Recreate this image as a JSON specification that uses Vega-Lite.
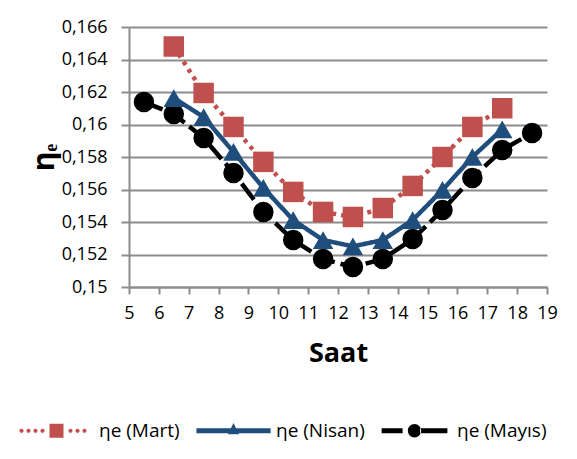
{
  "$schema": "https://vega.github.io/schema/vega-lite/v6.json",
  "width": 418,
  "height": 260,
  "autosize": {"type": "none"},
  "padding": {"left": 129, "top": 27, "right": 30, "bottom": 172},
  "background": "white",
  "config": {
    "font": "Open Sans",
    "view": {"stroke": null},
    "axis": {"labelColor": "#000000", "titleColor": "#000000", "labelFontSize": 18, "domainColor": "#8c8c8c", "domainWidth": 2, "tickColor": "#8c8c8c", "tickWidth": 2, "gridColor": "#8c8c8c", "gridWidth": 2}
  },
  "data": {
    "values": [
      {"saat": 5.5, "eta": 0.16138, "seri": "ηe (Mayıs)"},
      {"saat": 6.5, "eta": 0.16065, "seri": "ηe (Mayıs)"},
      {"saat": 7.5, "eta": 0.15917, "seri": "ηe (Mayıs)"},
      {"saat": 8.5, "eta": 0.15702, "seri": "ηe (Mayıs)"},
      {"saat": 9.5, "eta": 0.15462, "seri": "ηe (Mayıs)"},
      {"saat": 10.5, "eta": 0.15289, "seri": "ηe (Mayıs)"},
      {"saat": 11.5, "eta": 0.15172, "seri": "ηe (Mayıs)"},
      {"saat": 12.5, "eta": 0.15123, "seri": "ηe (Mayıs)"},
      {"saat": 13.5, "eta": 0.15172, "seri": "ηe (Mayıs)"},
      {"saat": 14.5, "eta": 0.15295, "seri": "ηe (Mayıs)"},
      {"saat": 15.5, "eta": 0.15474, "seri": "ηe (Mayıs)"},
      {"saat": 16.5, "eta": 0.15671, "seri": "ηe (Mayıs)"},
      {"saat": 17.5, "eta": 0.15843, "seri": "ηe (Mayıs)"},
      {"saat": 18.5, "eta": 0.15948, "seri": "ηe (Mayıs)"},
      {"saat": 6.5, "eta": 0.16163, "seri": "ηe (Nisan)"},
      {"saat": 7.5, "eta": 0.16046, "seri": "ηe (Nisan)"},
      {"saat": 8.5, "eta": 0.15831, "seri": "ηe (Nisan)"},
      {"saat": 9.5, "eta": 0.1561, "seri": "ηe (Nisan)"},
      {"saat": 10.5, "eta": 0.15412, "seri": "ηe (Nisan)"},
      {"saat": 11.5, "eta": 0.15289, "seri": "ηe (Nisan)"},
      {"saat": 12.5, "eta": 0.1525, "seri": "ηe (Nisan)"},
      {"saat": 13.5, "eta": 0.15289, "seri": "ηe (Nisan)"},
      {"saat": 14.5, "eta": 0.15412, "seri": "ηe (Nisan)"},
      {"saat": 15.5, "eta": 0.15597, "seri": "ηe (Nisan)"},
      {"saat": 16.5, "eta": 0.158, "seri": "ηe (Nisan)"},
      {"saat": 17.5, "eta": 0.1597, "seri": "ηe (Nisan)"},
      {"saat": 6.5, "eta": 0.1648, "seri": "ηe (Mart)"},
      {"saat": 7.5, "eta": 0.16194, "seri": "ηe (Mart)"},
      {"saat": 8.5, "eta": 0.15985, "seri": "ηe (Mart)"},
      {"saat": 9.5, "eta": 0.1577, "seri": "ηe (Mart)"},
      {"saat": 10.5, "eta": 0.15585, "seri": "ηe (Mart)"},
      {"saat": 11.5, "eta": 0.15462, "seri": "ηe (Mart)"},
      {"saat": 12.5, "eta": 0.15431, "seri": "ηe (Mart)"},
      {"saat": 13.5, "eta": 0.15486, "seri": "ηe (Mart)"},
      {"saat": 14.5, "eta": 0.15622, "seri": "ηe (Mart)"},
      {"saat": 15.5, "eta": 0.158, "seri": "ηe (Mart)"},
      {"saat": 16.5, "eta": 0.15985, "seri": "ηe (Mart)"},
      {"saat": 17.5, "eta": 0.161, "seri": "ηe (Mart)"}
    ]
  },
  "encoding": {
    "x": {
      "field": "saat", "type": "quantitative",
      "scale": {"domain": [5, 19], "nice": false, "zero": false},
      "axis": {"values": [5,6,7,8,9,10,11,12,13,14,15,16,17,18,19], "grid": false, "tickSize": 7, "labelPadding": 10, "title": "Saat", "titleFontSize": 27, "titleFontWeight": "bold", "titlePadding": 18, "labelFlush": false}
    },
    "y": {
      "field": "eta", "type": "quantitative",
      "scale": {"domain": [0.15, 0.166], "nice": false, "zero": false},
      "axis": {"values": [0.15,0.152,0.154,0.156,0.158,0.16,0.162,0.164,0.166], "labelExpr": "replace(format(datum.value, '.3~f'), '.', ',')", "tickSize": 8, "labelPadding": 14, "title": "ηₑ", "titleFontSize": 30, "titleFontWeight": "bold", "titlePadding": 2, "labelFlush": false}
    },
    "color": {
      "field": "seri", "type": "nominal",
      "scale": {"domain": ["ηe (Mart)", "ηe (Nisan)", "ηe (Mayıs)"], "range": ["#c0504d", "#1f4e7d", "#000000"]},
      "legend": {
        "title": null, "orient": "none", "direction": "horizontal",
        "legendX": -82, "legendY": 394,
        "labelFontSize": 19, "labelColor": "#000000", "labelOffset": 33, "columnPadding": 16,
        "symbolSize": 196, "symbolStrokeWidth": 0, "padding": 0,
        "encode": {
          "symbols": {
            "update": {
              "shape": {"signal": "datum.value == 'ηe (Mart)' ? 'M-5.3,0a0.3,0.3 0 1,0 0.6,0a0.3,0.3 0 1,0 -0.6,0M-4.3,0a0.3,0.3 0 1,0 0.6,0a0.3,0.3 0 1,0 -0.6,0M-3.3,0a0.3,0.3 0 1,0 0.6,0a0.3,0.3 0 1,0 -0.6,0M-2.3,0a0.3,0.3 0 1,0 0.6,0a0.3,0.3 0 1,0 -0.6,0M1.7,0a0.3,0.3 0 1,0 0.6,0a0.3,0.3 0 1,0 -0.6,0M2.7,0a0.3,0.3 0 1,0 0.6,0a0.3,0.3 0 1,0 -0.6,0M3.7,0a0.3,0.3 0 1,0 0.6,0a0.3,0.3 0 1,0 -0.6,0M-1,-1H1V1H-1Z' : datum.value == 'ηe (Nisan)' ? 'M-5.3,-0.36H5.3V0.36H-5.3ZM0,-1.1L0.8,0.5L-0.8,0.5Z' : 'M-4.7,-0.36H-1.7V0.36H-4.7ZM0.8,-0.36H4.7V0.36H0.8ZM-0.95,0a0.95,0.95 0 1,0 1.9,0a0.95,0.95 0 1,0 -1.9,0Z'"},
              "fill": {"signal": "datum.value == 'ηe (Mart)' ? '#c0504d' : datum.value == 'ηe (Nisan)' ? '#1f4e7d' : '#000000'"},
              "fillOpacity": {"value": 1},
              "strokeWidth": {"value": 0}
            }
          }
        }
      }
    }
  },
  "layer": [
    {
      "mark": {"type": "line", "strokeWidth": 4.5},
      "encoding": {
        "strokeDash": {
          "field": "seri", "type": "nominal",
          "scale": {"domain": ["ηe (Mart)", "ηe (Nisan)", "ηe (Mayıs)"], "range": [[4, 5], [1, 0], [20, 6]]},
          "legend": null
        }
      }
    },
    {
      "transform": [{"filter": "datum.seri == 'ηe (Mayıs)'"}],
      "mark": {"type": "point", "filled": true, "opacity": 1, "shape": "circle", "size": 420},
      "encoding": {}
    },
    {
      "transform": [{"filter": "datum.seri == 'ηe (Nisan)'"}],
      "mark": {"type": "point", "filled": true, "opacity": 1, "shape": "triangle-up", "size": 420},
      "encoding": {}
    },
    {
      "transform": [{"filter": "datum.seri == 'ηe (Mart)'"}],
      "mark": {"type": "point", "filled": true, "opacity": 1, "shape": "square", "size": 420},
      "encoding": {}
    }
  ]
}
